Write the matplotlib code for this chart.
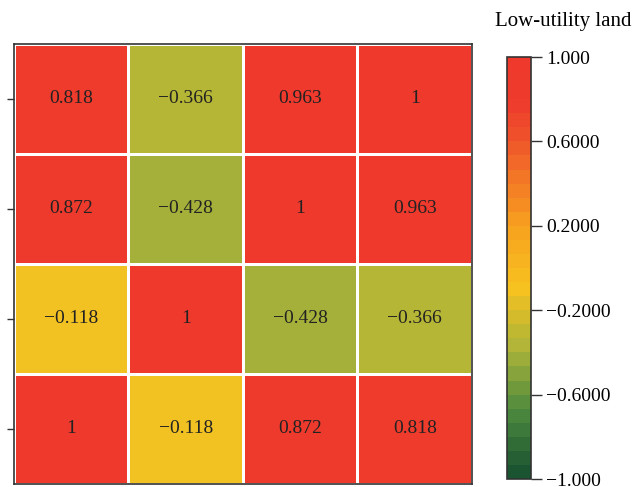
import numpy as np
import matplotlib.pyplot as plt
from matplotlib.colors import LinearSegmentedColormap, BoundaryNorm

plt.rcParams['font.family'] = ['Liberation Serif', 'DejaVu Serif']

# correlation values, top row first
values = [
    [0.818, -0.366, 0.963, 1],
    [0.872, -0.428, 1, 0.963],
    [-0.118, 1, -0.428, -0.366],
    [1, -0.118, 0.872, 0.818],
]
cell_labels = [
    ['0.818', '\u22120.366', '0.963', '1'],
    ['0.872', '\u22120.428', '1', '0.963'],
    ['\u22120.118', '1', '\u22120.428', '\u22120.366'],
    ['1', '\u22120.118', '0.872', '0.818'],
]
cbar_ticks = [1.0, 0.6, 0.2, -0.2, -0.6, -1.0]
cbar_ticklabels = ['1.000', '0.6000', '0.2000', '\u22120.2000', '\u22120.6000', '\u22121.000']
cbar_title = 'Low-utility land'

stops = [
    (0.0, '#1a5430'),
    (0.15, '#4e8a3e'),
    (0.30, '#adb439'),
    (0.45, '#f7c220'),
    (0.60, '#f7a11f'),
    (0.80, '#f0582a'),
    (0.90, '#ee3b2c'),
    (1.0, '#ee392c'),
]
cmap = LinearSegmentedColormap.from_list('greenred', stops)
levels = np.linspace(-1, 1, 31)
norm = BoundaryNorm(levels, cmap.N)

data = np.array(values)
nrows, ncols = data.shape

fig = plt.figure(figsize=(6.39, 4.87), dpi=100)
ax = fig.add_axes([0.0219, 0.0062, 0.7167, 0.9035])
mesh = ax.pcolormesh(data[::-1], cmap=cmap, vmin=-1, vmax=1,
                     edgecolors='white', linewidth=2)
for i in range(nrows):
    for j in range(ncols):
        ax.text(j + 0.5, nrows - i - 0.5, cell_labels[i][j], ha='center', va='center',
                fontsize=14, color='#222222')
ax.set_xlim(0, ncols)
ax.set_ylim(0, nrows)
ax.set_xticks([])
ax.set_yticks(np.arange(nrows) + 0.5)
ax.set_yticklabels([])
ax.tick_params(axis='y', length=5, width=1, color='#333333')
for s in ax.spines.values():
    s.set_color('#333333')
    s.set_linewidth(1.2)

cax = fig.add_axes([0.7934, 0.0164, 0.0376, 0.8665])
sm = plt.cm.ScalarMappable(norm=norm, cmap=cmap)
cb = fig.colorbar(sm, cax=cax, ticks=cbar_ticks)
cb.set_ticklabels(cbar_ticklabels)
cb.outline.set_color('#333333')
cb.outline.set_linewidth(1.2)
cax.tick_params(length=8, width=1, labelsize=14, pad=3, color='#333333')
cb.ax.minorticks_off()
fig.text(0.881, 0.955, cbar_title, ha='center', va='center', fontsize=15)

fig.savefig('out.png', dpi=100)
